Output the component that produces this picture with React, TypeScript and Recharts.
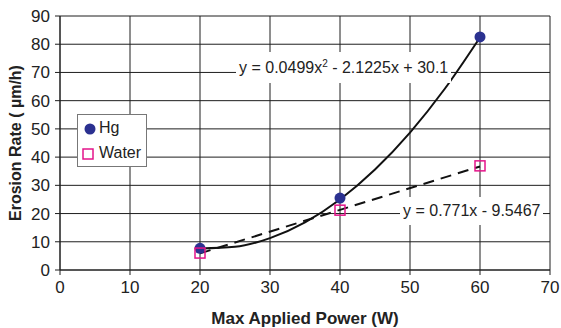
import { ComposedChart, Line, Scatter, XAxis, YAxis, CartesianGrid, Legend } from "recharts"

const FONT = '"Liberation Sans", Arial, sans-serif'
const HG_COLOR = "#2b3190"
const WATER_COLOR = "#e4148a"

// measured points
const powerW = [20, 40, 60]
const hgRate = [7.7, 25.5, 82.6]
const waterRate = [6.0, 21.2, 36.9]

// trendlines
const polyX = [20, 25, 30, 35, 40, 45, 50, 55, 60]
const polyY = [7.6, 8.2, 11.3, 16.9, 25.0, 35.6, 48.7, 64.3, 82.4]
const linX = [20, 60]
const linY = [5.9, 36.7]

const xTicks = [0, 10, 20, 30, 40, 50, 60, 70]
const yTicks = [0, 10, 20, 30, 40, 50, 60, 70, 80, 90]

const hgData = powerW.map((x, i) => ({ x, y: hgRate[i] }))
const waterData = powerW.map((x, i) => ({ x, y: waterRate[i] }))
const polyData = polyX.map((x, i) => ({ x, y: polyY[i] }))
const linData = linX.map((x, i) => ({ x, y: linY[i] }))

const HgDot = (p: any) => <circle cx={p.cx} cy={p.cy} r={5.5} fill={HG_COLOR} />
const WaterSquare = (p: any) => (
  <rect x={p.cx - 5} y={p.cy - 5} width={10} height={10} fill="none" stroke={WATER_COLOR} strokeWidth={1.5} />
)

function LegendBox() {
  return (
    <div
      style={{
        width: 68,
        height: 51,
        border: "1px solid #777",
        background: "#fff",
        fontFamily: FONT,
        fontSize: 16,
        color: "#222",
        boxSizing: "content-box",
      }}
    >
      <div style={{ display: "flex", alignItems: "center", height: 26 }}>
        <svg width={21} height={26}>
          <circle cx={12} cy={14} r={5.5} fill={HG_COLOR} />
        </svg>
        <span>Hg</span>
      </div>
      <div style={{ display: "flex", alignItems: "center", height: 24 }}>
        <svg width={21} height={24}>
          <rect x={5} y={8} width={10} height={10} fill="none" stroke={WATER_COLOR} strokeWidth={1.5} />
        </svg>
        <span>Water</span>
      </div>
    </div>
  )
}

const eqStyle: React.CSSProperties = {
  position: "absolute",
  background: "#fff",
  fontFamily: FONT,
  fontSize: 16,
  color: "#222",
  whiteSpace: "nowrap",
}

export default function App() {
  return (
    <div style={{ position: "absolute", left: 0, top: 0, width: 561, height: 328, background: "#fff" }}>
      <ComposedChart width={561} height={328} margin={{ top: 16, right: 11, left: 0, bottom: 0 }}>
        <CartesianGrid stroke="#1e1e1e" strokeWidth={1} />
        <XAxis
          type="number"
          dataKey="x"
          domain={[0, 70]}
          ticks={xTicks}
          height={58}
          tickSize={5}
          tickMargin={6}
          stroke="#1e1e1e"
          tick={{ fill: "#222", fontSize: 17, fontFamily: FONT }}
          label={{
            value: "Max Applied Power (W)",
            position: "insideBottom",
            offset: 4,
            style: { fill: "#222", fontSize: 17, fontWeight: "bold", fontFamily: FONT },
          }}
        />
        <YAxis
          type="number"
          domain={[0, 90]}
          ticks={yTicks}
          width={60}
          tickSize={5}
          tickMargin={5}
          stroke="#1e1e1e"
          tick={{ fill: "#222", fontSize: 17, fontFamily: FONT }}
          label={{
            content: () => (
              <text
                x={21}
                y={143}
                transform="rotate(-90 21 143)"
                textAnchor="middle"
                fill="#222"
                fontSize={16}
                fontWeight="bold"
                fontFamily={FONT}
              >
                Erosion Rate ( µm/h)
              </text>
            ),
          }}
        />
        <Legend
          layout="vertical"
          align="center"
          verticalAlign="middle"
          content={() => <LegendBox />}
          wrapperStyle={{ left: 77, top: 114, width: "auto" }}
        />
        <Line
          data={polyData}
          dataKey="y"
          type="monotone"
          stroke="#111"
          strokeWidth={2}
          dot={false}
          activeDot={false}
          isAnimationActive={false}
          legendType="none"
        />
        <Line
          data={linData}
          dataKey="y"
          type="linear"
          stroke="#111"
          strokeWidth={2}
          strokeDasharray="11 7"
          dot={false}
          activeDot={false}
          isAnimationActive={false}
          legendType="none"
        />
        <Scatter name="Hg" data={hgData} dataKey="y" shape={HgDot} isAnimationActive={false} />
        <Scatter name="Water" data={waterData} dataKey="y" shape={WaterSquare} isAnimationActive={false} />
      </ComposedChart>
      <div style={{ ...eqStyle, left: 236, top: 52, padding: "6px 3px", lineHeight: "19px" }}>
        y = 0.0499x<sup style={{ fontSize: 10, verticalAlign: "6px", lineHeight: 0 }}>2</sup> - 2.1225x + 30.1
      </div>
      <div style={{ ...eqStyle, left: 400, top: 197, padding: "5px 3px", lineHeight: "18px" }}>
        y = 0.771x - 9.5467
      </div>
    </div>
  )
}
